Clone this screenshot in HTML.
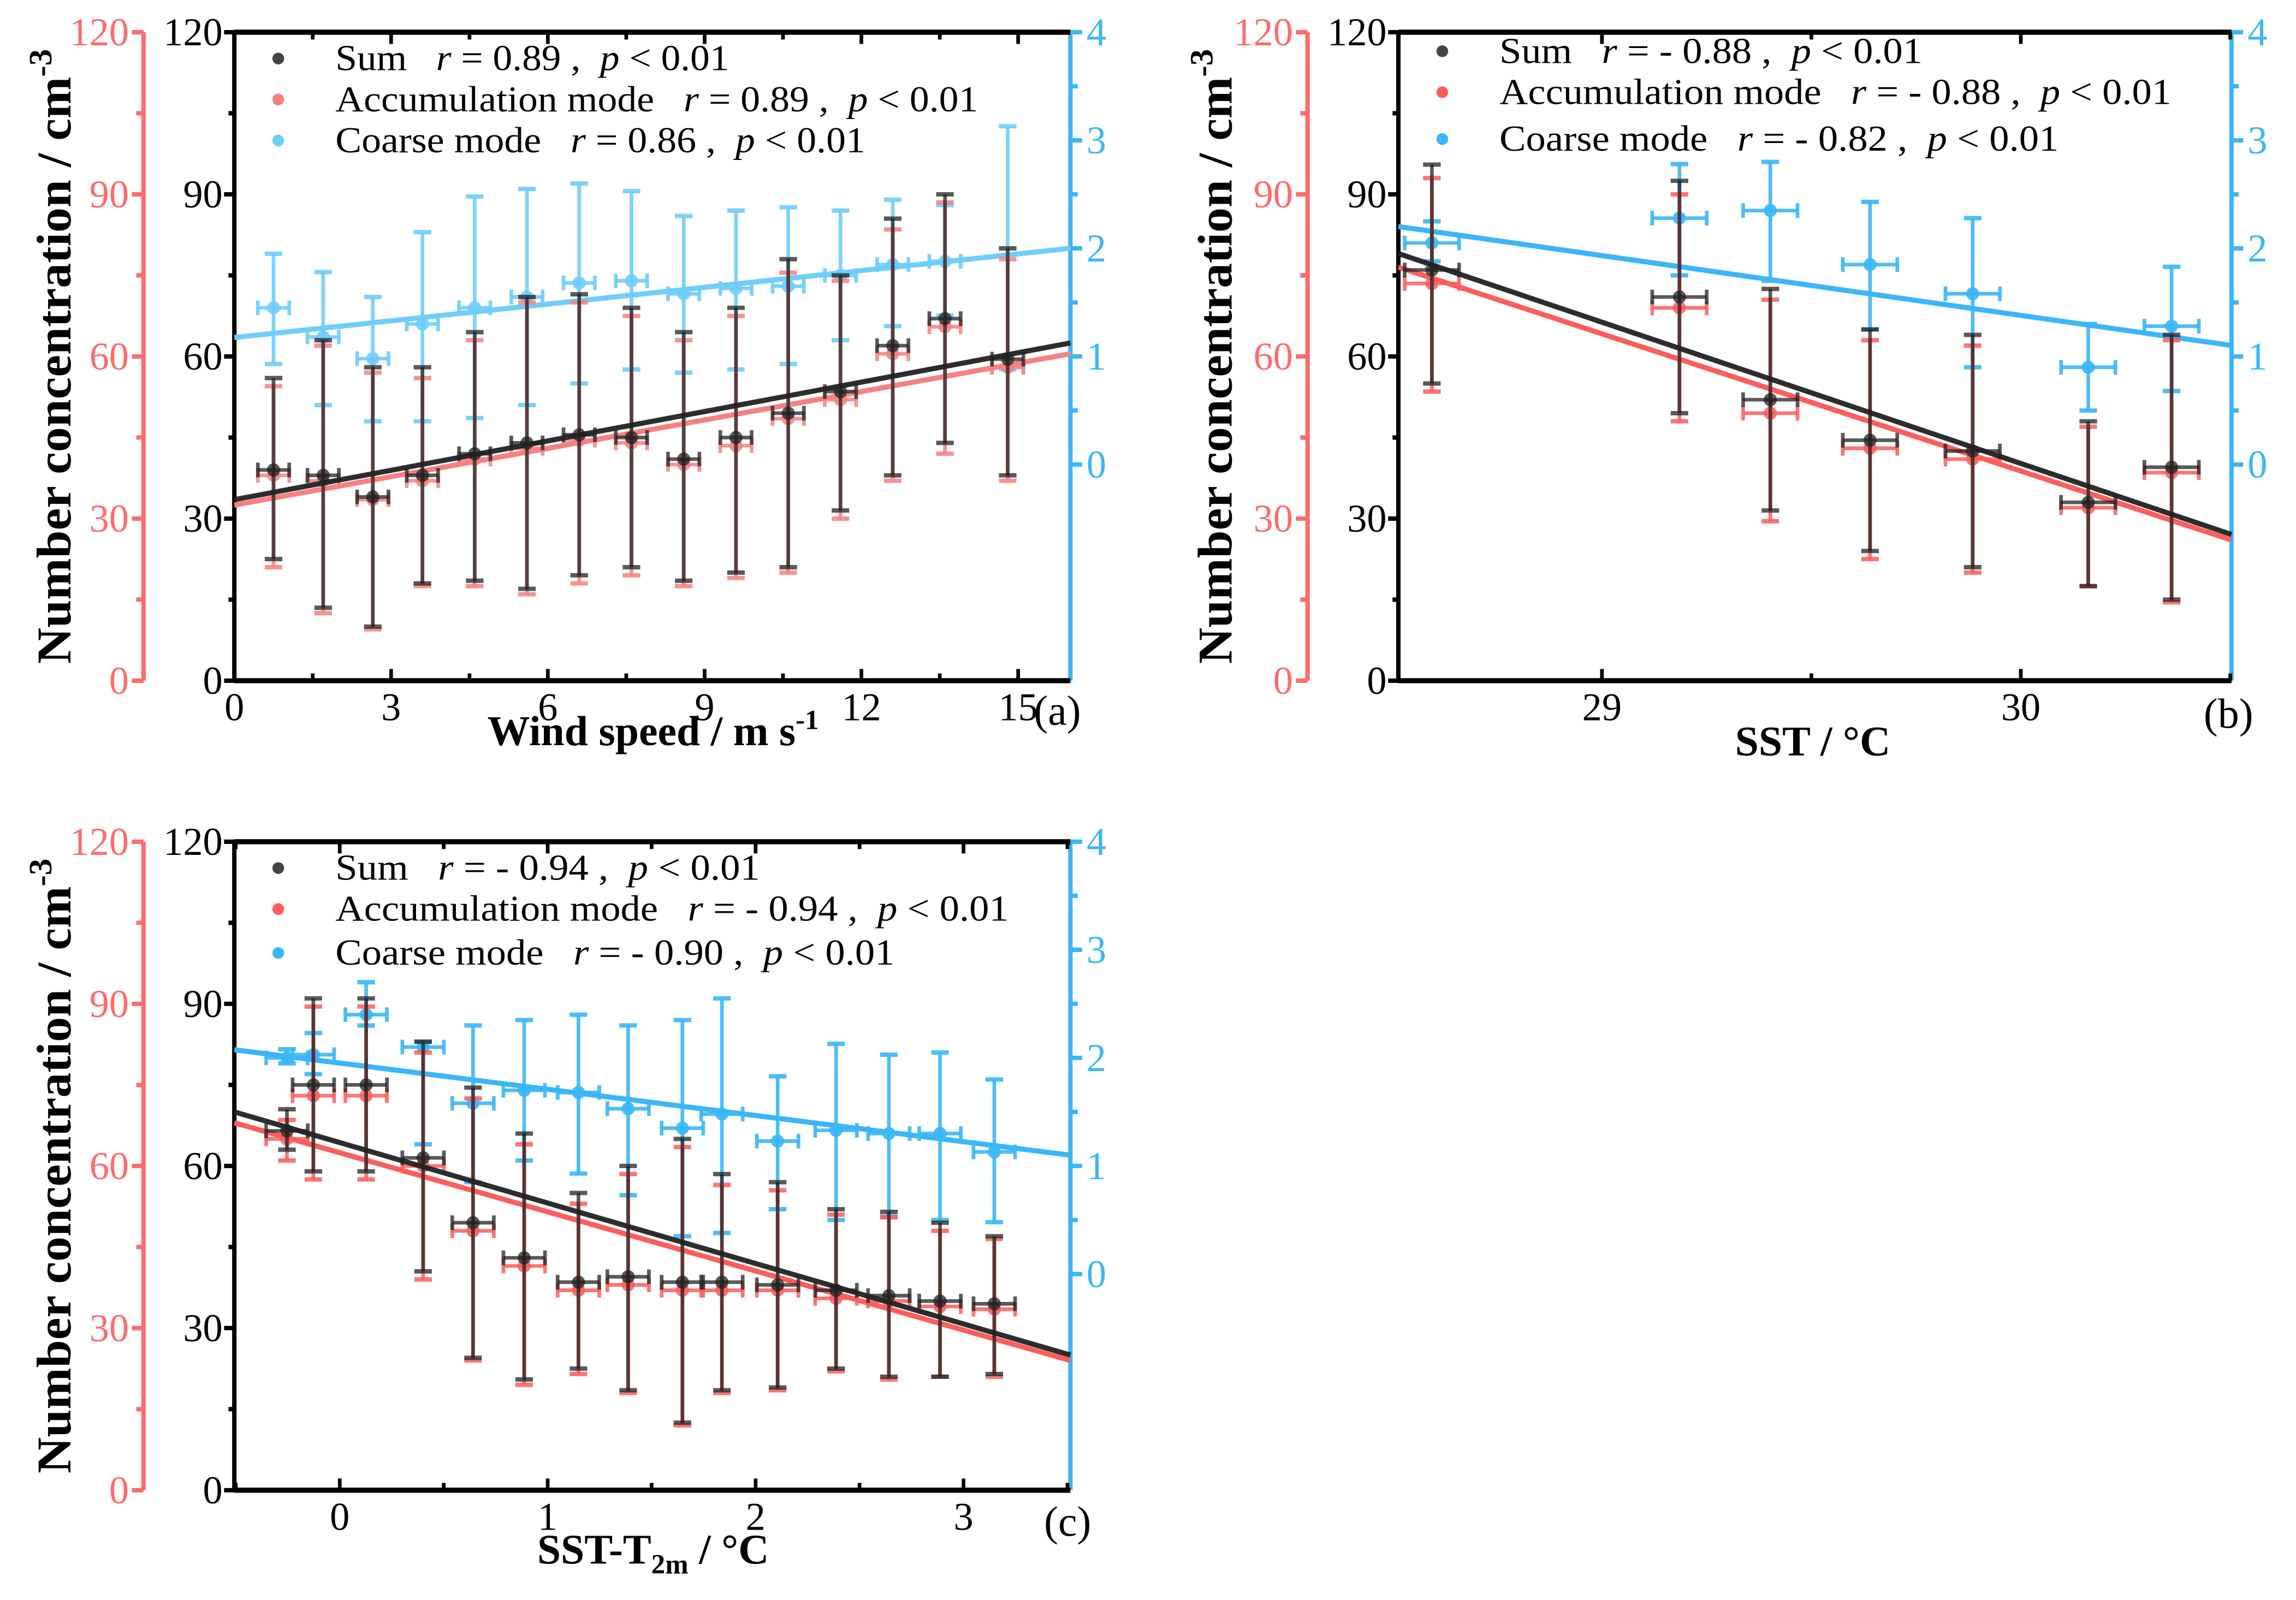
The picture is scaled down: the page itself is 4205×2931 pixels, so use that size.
<!DOCTYPE html>
<html><head><meta charset="utf-8"><style>
html,body{margin:0;padding:0;background:#fff;}
svg{display:block;}
svg text{font-family:"Liberation Serif","Times New Roman",serif;}
</style></head><body>
<svg id="fig" width="4205" height="2931" viewBox="0 0 1568 1093" xmlns="http://www.w3.org/2000/svg"></svg>
<script>
// ---------- Panel (a) data: wind speed ----------
const aX = [0.75,1.7,2.65,3.6,4.6,5.6,6.6,7.6,8.6,9.6,10.6,11.6,12.6,13.6,14.8];
const aSum = [39,38,34,38,42,44,45.5,45,41,45,49.5,53.5,62,67,59.5];
const aSumLo = [22.5,13.5,10,18,18.5,17,19.5,21,18.5,20,21,31.5,38,44,38];
const aSumHi = [56,63,58,58,64.5,71,71.5,69,64.5,69,78,75,85.5,90,80];
const aAcc = [38,37,33.5,37,41,43,44.5,44,40,43.5,48.5,52,60.5,65.5,58];
const aAccLo = [21,12.5,9.5,17.5,17.5,16,18,19.5,17.5,19,20,30,37,42,37];
const aAccHi = [54.5,62,57,56,63,70,70,67.5,63,67.5,75.5,74,83.5,88.5,78];
const aCoa = [1.45,1.18,0.98,1.3,1.45,1.55,1.68,1.7,1.58,1.63,1.65,1.75,1.85,1.88,0.9];
const aCoaLo = [0.93,0.55,0.4,0.4,0.43,0.55,0.75,0.88,0.85,0.88,0.93,1.15,1.28,1.38,0.88];
const aCoaHi = [1.95,1.78,1.55,2.15,2.48,2.55,2.6,2.53,2.3,2.35,2.38,2.35,2.45,2.4,3.13];
// fit lines [sum, accumulation, coarse]
const aFitIntercept = [33.5,32.5,1.175];
const aFitSlope = [1.8125,1.75,0.0516];
const aXErr = 0.3;
const aXTicks = [0,3,6,9,12,15];
// ---------- Panel (b) data: SST ----------
const bX = [28.594,29.185,29.402,29.64,29.885,30.161,30.36];
const bSum = [76,71,52,44.5,42.5,33,39.5];
const bSumLo = [55,49.5,31.5,24,21,17.5,15];
const bSumHi = [95.5,92.5,72.5,65,64,48,64];
const bAcc = [73.5,69,49.5,43,41,32,38.5];
const bAccLo = [53.5,48,29.5,22.5,20,17.5,14.5];
const bAccHi = [93,90,70.5,63,62,47,63];
const bCoa = [2.05,2.28,2.35,1.85,1.58,0.9,1.28];
const bCoaLo = [1.88,1.75,1.7,1.25,0.9,0.5,0.68];
const bCoaHi = [2.25,2.78,2.8,2.43,2.28,1.3,1.83];
const bFitIntercept = [824.4,800.5,17.97];
const bFitSlope = [-26.14,-25.39,-0.553];
const bXErr = 0.065;
const bXTicks = [29,30];
// ---------- Panel (c) data: SST-T2m ----------
const cX = [-0.254,-0.127,0.127,0.401,0.641,0.887,1.148,1.387,1.648,1.838,2.106,2.387,2.641,2.887,3.148];
const cSum = [66.5,75,75,61.5,49.5,43,38.5,39.5,38.5,38.5,38,37,36,35,34.5];
const cSumLo = [63,59,59,40.5,24.5,20.5,22.5,18.5,12.5,18.5,19,22.5,21,21,21.5];
const cSumHi = [70.5,91,91,83,74.5,66,55,60,65,58.5,57,52,51.5,49.5,47];
const cAcc = [65,73,73,60,48,41.5,37,38,37,37,37,35.5,35,34,33.5];
const cAccLo = [61,57.5,57.5,39,24,19.5,21.5,18,12,18,18.5,22,20.5,21,21];
const cAccHi = [68.5,89.5,89.5,81,72.5,64,53,58.5,63.5,56.5,55.5,51,50.5,48,46.5];
const cCoa = [2,2.03,2.4,2.1,1.58,1.7,1.68,1.53,1.35,1.48,1.23,1.33,1.3,1.3,1.13];
const cCoaLo = [1.95,1.85,2.3,1.2,0.85,1.05,0.93,0.73,0.35,0.38,0.6,0.5,0.53,0.5,0.48];
const cCoaHi = [2.08,2.23,2.7,2.15,2.3,2.35,2.4,2.3,2.35,2.55,1.83,2.13,2.03,2.05,1.8];
const cFitIntercept = [64.33,62.45,1.952];
const cFitSlope = [-11.19,-10.94,-0.2425];
const cXErr = 0.1;
const cXTicks = [0,1,2,3];
// shared axis labels
const yTicks = [0,30,60,90,120];
const blueTicks = [0,1,2,3,4];

const NS = "http://www.w3.org/2000/svg";
const svg = document.getElementById('fig');
const FF = '"Liberation Serif", serif';
function mk(tag, attrs, parent){
  const e = document.createElementNS(NS, tag);
  for (const k in attrs) e.setAttribute(k, attrs[k]);
  if (tag==='text') e.setAttribute('font-family', FF);
  (parent||svg).appendChild(e);
  return e;
}
const RED = "#ff6b6b", BLUE = "#3bb6f7";

function panel(o){
  const g = mk('g', {});
  
  
  const L=o.L,R=o.R,T=o.T,B=o.B;
  const xs = v => L + (v-o.x0)/(o.x1-o.x0)*(R-L);
  const ys = v => B - v/120*(B-T);
  const yb = v => ys(40+20*v);
  // red axis
  const ra = mk('g', {}, g);
  
  
  const rx = L-62;
  mk('line',{x1:rx,y1:T,x2:rx,y2:B,stroke:RED,'stroke-width':3},ra);
  for (let v=0; v<=120; v+=15){
    const major = v%30===0;
    mk('line',{x1:rx,y1:ys(v),x2:rx-(major?8:5),y2:ys(v),stroke:RED,'stroke-width':3},ra);
  }
  yTicks.forEach(v=>{ const t=mk('text',{x:rx-10,y:ys(v)+9,'text-anchor':'end','font-size':27,fill:RED},ra); t.textContent=v; });
  // blue axis
  const ba = mk('g', {}, g);
  
  
  mk('line',{x1:R,y1:T,x2:R,y2:B,stroke:BLUE,'stroke-width':3},ba);
  for (let v=0; v<=4; v+=0.5){
    mk('line',{x1:R,y1:yb(v),x2:R+(v%1===0?8:5),y2:yb(v),stroke:BLUE,'stroke-width':3},ba);
  }
  blueTicks.forEach(v=>{ const t=mk('text',{x:R+11,y:yb(v)+9,'font-size':27,fill:BLUE},ba); t.textContent=v; });
  // black frame
  const fa = mk('g', {}, g);
  
  
  mk('line',{x1:L,y1:T,x2:R,y2:T,stroke:'#000','stroke-width':3.5},fa);
  mk('line',{x1:L,y1:B,x2:R,y2:B,stroke:'#000','stroke-width':3.5},fa);
  mk('line',{x1:L,y1:T,x2:L,y2:B,stroke:'#000','stroke-width':3},fa);
  for (let v=0; v<=120; v+=15){
    mk('line',{x1:L,y1:ys(v),x2:L-(v%30===0?7:4),y2:ys(v),stroke:'#000','stroke-width':3},fa);
  }
  yTicks.forEach(v=>{ const t=mk('text',{x:L-8,y:ys(v)+9,'text-anchor':'end','font-size':27,fill:'#000'},fa); t.textContent=v; });
  const step = o.ticks[1]-o.ticks[0];
  for (let v=Math.ceil(o.x0/(step/2))*(step/2); v<=o.x1+1e-9; v+=step/2){
    const maj = Math.abs(v/step-Math.round(v/step))<1e-6;
    mk('line',{x1:xs(v),y1:B,x2:xs(v),y2:B-(maj?8:5),stroke:'#000','stroke-width':2.5},fa);
    mk('line',{x1:xs(v),y1:T,x2:xs(v),y2:T+(maj?8:5),stroke:'#000','stroke-width':2.5},fa);
  }
  o.ticks.forEach(v=>{ const t=mk('text',{x:xs(v),y:B+o.tickDy,'text-anchor':'middle','font-size':27,fill:'#000'},fa); t.textContent=v; });
  // series
  function series(name, X, M, Lo, Hi, yf, col, opa, xe, fi){
    const sg = mk('g',{},g);
    
    
    X.forEach((x,i)=>{
      const px=xs(x);
      mk('line',{x1:px,y1:yf(Lo[i]),x2:px,y2:yf(Hi[i]),stroke:col,'stroke-width':2.5,'stroke-opacity':opa},sg);
      mk('line',{x1:px-6,y1:yf(Lo[i]),x2:px+6,y2:yf(Lo[i]),stroke:col,'stroke-width':3,'stroke-opacity':opa},sg);
      mk('line',{x1:px-6,y1:yf(Hi[i]),x2:px+6,y2:yf(Hi[i]),stroke:col,'stroke-width':3,'stroke-opacity':opa},sg);
      const py=yf(M[i]);
      mk('line',{x1:xs(x-xe),y1:py,x2:xs(x+xe),y2:py,stroke:col,'stroke-width':2.5,'stroke-opacity':opa},sg);
      mk('line',{x1:xs(x-xe),y1:py-5,x2:xs(x-xe),y2:py+5,stroke:col,'stroke-width':2.5,'stroke-opacity':opa},sg);
      mk('line',{x1:xs(x+xe),y1:py-5,x2:xs(x+xe),y2:py+5,stroke:col,'stroke-width':2.5,'stroke-opacity':opa},sg);
      const c = mk('circle',{cx:px,cy:py,r:4.5,fill:col,'fill-opacity':opa},sg);
      
      
    });
    const a = o.fitA[fi], b = o.fitB[fi];
    const ln = mk('line',{x1:L,y1:yf(a+b*o.x0),x2:R,y2:yf(a+b*o.x1),stroke:col,'stroke-width':3.5,'stroke-opacity':Math.min(1,opa+0.2)},sg);
    
    
  }
  series('coarse-mode-series', o.X, o.coa, o.coaLo, o.coaHi, yb, o.blueCol, 0.9, o.xe, 2);
  series('accumulation-mode-series', o.X, o.acc, o.accLo, o.accHi, ys, o.redCol, 0.85, o.xe, 1);
  series('sum-series', o.X, o.sum, o.sumLo, o.sumHi, ys, '#222', 0.75, o.xe, 0);
  // legend
  const lg = mk('g',{},g);
  
  
  const cols = ['#444', o.redCol, o.blueCol];
  o.leg.forEach((e,i)=>{
    const y=o.legY[i];
    mk('circle',{cx:o.legX,cy:y-8,r:4,fill:cols[i]},lg);
    const t = mk('text',{x:o.legX+39,y:y,'font-size':25,textLength:o.legW[i],lengthAdjust:'spacingAndGlyphs'},lg);
    
    
    t.innerHTML = e[0]+'\u00a0\u00a0\u00a0<tspan font-style="italic">r</tspan> = '+e[1]+' ,\u00a0\u00a0<tspan font-style="italic">p</tspan> &lt; 0.01';
  });
  // titles
  const yt = mk('text',{transform:`translate(${o.ytX},${(T+B)/2}) rotate(-90)`,'text-anchor':'middle','font-size':33,'font-weight':'bold',textLength:420,lengthAdjust:'spacingAndGlyphs'},g);
  
  
  yt.innerHTML = 'Number concentration / cm<tspan dy="-13" font-size="22">-3</tspan>';
  const xt = mk('text',{x:o.xtX,y:o.xtY,'text-anchor':'middle','font-size':29,'font-weight':'bold'},g);
  
  
  xt.innerHTML = o.xTitle;
  const pl = mk('text',{x:o.plX,y:o.plY,'font-size':29},g);
  
  
  pl.textContent = o.label;
}

panel({id:'a',name:'panel-a-wind-speed',L:160,R:731,T:22,B:465,x0:0,x1:16,ticks:aXTicks,tickDy:27,
  X:aX,sum:aSum,sumLo:aSumLo,sumHi:aSumHi,acc:aAcc,accLo:aAccLo,accHi:aAccHi,coa:aCoa,coaLo:aCoaLo,coaHi:aCoaHi,xe:aXErr,
  fitA:aFitIntercept,fitB:aFitSlope,
  redCol:'#f78080',blueCol:'#6fcdfb',
  leg:[['Sum','0.89'],['Accumulation mode','0.89'],['Coarse mode','0.86']],legX:190,legY:[48,76,104],legW:[269,439,362],
  ytX:48,xtX:446,xtY:509,xTitle:'Wind speed / m s<tspan dy="-11" font-size="19">-1</tspan>',plX:706,plY:495,label:'(a)'});
panel({id:'b',name:'panel-b-sst',L:955,R:1524,T:22,B:465,x0:28.514,x1:30.503,ticks:bXTicks,tickDy:27,
  X:bX,sum:bSum,sumLo:bSumLo,sumHi:bSumHi,acc:bAcc,accLo:bAccLo,accHi:bAccHi,coa:bCoa,coaLo:bCoaLo,coaHi:bCoaHi,xe:bXErr,
  fitA:bFitIntercept,fitB:bFitSlope,
  redCol:'#ff5c5c',blueCol:'#3bb6f7',
  leg:[['Sum','- 0.88'],['Accumulation mode','- 0.88'],['Coarse mode','- 0.82']],legX:985,legY:[43,71,103],legW:[289,459,382],
  ytX:841,xtX:1238,xtY:516,xTitle:'SST / °C',plX:1505,plY:497,label:'(b)'});
panel({id:'c',name:'panel-c-sst-t2m',L:160,R:731,T:575,B:1018,x0:-0.507,x1:3.514,ticks:cXTicks,tickDy:27,
  X:cX,sum:cSum,sumLo:cSumLo,sumHi:cSumHi,acc:cAcc,accLo:cAccLo,accHi:cAccHi,coa:cCoa,coaLo:cCoaLo,coaHi:cCoaHi,xe:cXErr,
  fitA:cFitIntercept,fitB:cFitSlope,
  redCol:'#ff5c5c',blueCol:'#3bb6f7',
  leg:[['Sum','- 0.94'],['Accumulation mode','- 0.94'],['Coarse mode','- 0.90']],legX:190,legY:[601,629,659],legW:[290,460,382],
  ytX:48,xtX:446,xtY:1068,xTitle:'SST-T<tspan dy="7" font-size="19">2m</tspan><tspan dy="-7"> / °C</tspan>',plX:713,plY:1049,label:'(c)'});
</script>
</body></html>
